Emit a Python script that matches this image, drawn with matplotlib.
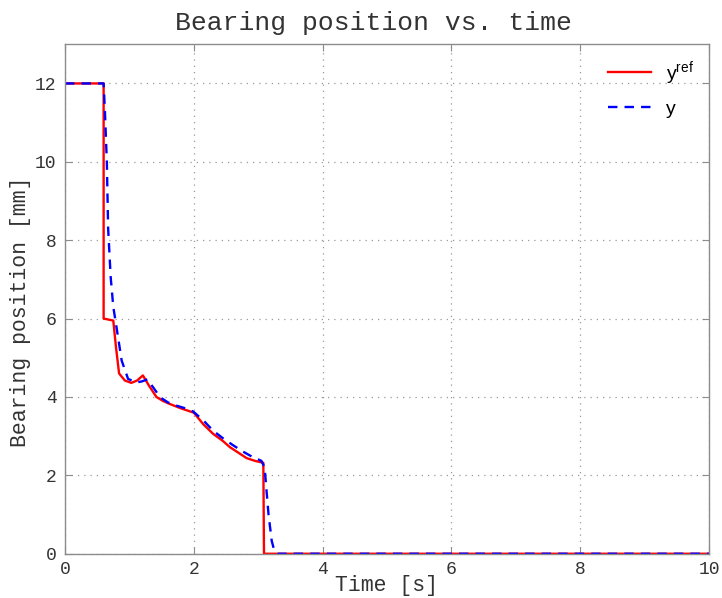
import matplotlib
matplotlib.use('Agg')
import matplotlib.pyplot as plt

# Reference trajectory
t_ref = [0.0, 0.60, 0.60, 0.75, 0.79, 0.84, 0.93, 1.03, 1.12, 1.21, 1.30, 1.42,
         1.52, 1.63, 1.80, 2.00, 2.15, 2.30, 2.45, 2.56, 2.70, 2.82, 2.95, 3.08,
         3.09, 10.0]
y_ref = [12.0, 12.0, 6.0, 5.95, 5.3, 4.6, 4.42, 4.36, 4.42, 4.55, 4.3, 4.0,
         3.9, 3.82, 3.71, 3.60, 3.30, 3.06, 2.88, 2.72, 2.57, 2.44, 2.37, 2.32,
         0.0, 0.0]

# Measured bearing position
t_y = [0.0, 0.60, 0.62, 0.65, 0.67, 0.71, 0.75, 0.80, 0.88, 0.98, 1.11, 1.20,
       1.28, 1.38, 1.48, 1.60, 1.73, 1.85, 1.99, 2.15, 2.30, 2.45, 2.60, 2.75,
       2.90, 3.05, 3.10, 3.13, 3.16, 3.21, 3.25, 3.30, 10.0]
y_y = [12.0, 12.0, 11.3, 10.0, 8.3, 7.05, 6.3, 5.78, 4.93, 4.46, 4.37, 4.40,
       4.45, 4.22, 3.99, 3.86, 3.78, 3.72, 3.63, 3.40, 3.14, 2.95, 2.78, 2.62,
       2.48, 2.37, 2.2, 1.6, 1.01, 0.33, 0.08, 0.0, 0.0]

mono = 'Liberation Mono'
text_color = '#333333'
axis_gray = '#8c8c8c'

plt.rcParams['mathtext.default'] = 'regular'

fig = plt.figure(figsize=(7.22, 5.98), dpi=100)
ax = fig.add_axes([0.090, 0.074, 0.892, 0.852])

ax.plot(t_ref, y_ref, color='#ff0000', linewidth=1.7, label=r'$\mathregular{y^{ref}}$')
ax.plot(t_y, y_y, color='#0000ff', linewidth=1.7, linestyle=(0, (4, 3)), label='y')

ax.set_xlim(0, 10)
ax.set_ylim(0, 13)
ax.set_xticks([0, 2, 4, 6, 8, 10])
ax.set_yticks([0, 2, 4, 6, 8, 10, 12])

ax.grid(True, linestyle=(0, (1, 4)), color='#999999', linewidth=0.9)

for side in ['left', 'right', 'top', 'bottom']:
    ax.spines[side].set_color(axis_gray)
    ax.spines[side].set_linewidth(1.0)

ax.tick_params(direction='in', length=5, color=axis_gray, top=True, right=True,
               labelsize=13, labelcolor=text_color)
ax.tick_params(axis='x', pad=5)
ax.tick_params(axis='y', pad=6)
for lbl in ax.get_xticklabels() + ax.get_yticklabels():
    lbl.set_family(mono)

ax.set_title('Bearing position vs. time', family=mono, fontsize=19, color=text_color,
             pad=10, x=0.479)
ax.set_xlabel('Time [s]', family=mono, fontsize=15.5, color=text_color, labelpad=-2)
ax.set_ylabel('Bearing position [mm]', family=mono, fontsize=15.5, color=text_color)
ax.yaxis.set_label_coords(-0.052, 0.475)

leg = ax.legend(loc='upper right', frameon=False, handlelength=2.2, handletextpad=0.8,
                labelspacing=0.7, prop={'family': 'Liberation Sans', 'size': 14},
                borderaxespad=0.35, bbox_to_anchor=(1.0, 1.0))

fig.savefig('out.png', dpi=100)
